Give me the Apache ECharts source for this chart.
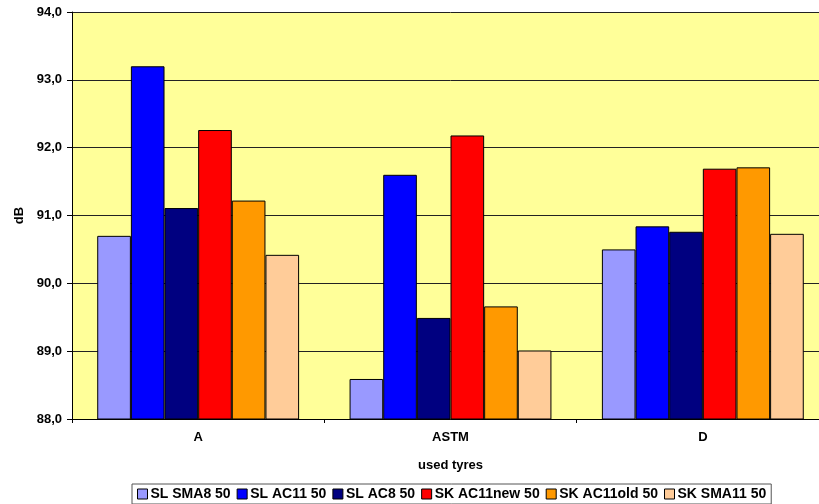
<!DOCTYPE html>
<html>
<head>
<meta charset="utf-8">
<script src="https://cdn.jsdelivr.net/npm/echarts@6/dist/echarts.min.js"></script>
<style>
  html, body { margin: 0; padding: 0; background: #fff; overflow: hidden; }
  #chart { width: 832px; height: 504px; }
</style>
</head>
<body>
<div id="chart"></div>
<script>
// Categories (tyres)
const categories = ['A', 'ASTM', 'D']

// Series values (dB)
const slSma8 = [90.70, 88.59, 90.50]
const slAc11 = [93.20, 91.60, 90.84]
const slAc8 = [91.11, 89.49, 90.76]
const skAc11new = [92.26, 92.18, 91.69]
const skAc11old = [91.22, 89.66, 91.71]
const skSma11 = [90.42, 89.01, 90.73]

const seriesNames = ['SL SMA8 50', 'SL AC11 50', 'SL AC8 50', 'SK AC11new 50', 'SK AC11old 50', 'SK SMA11 50']
const seriesData = [slSma8, slAc11, slAc8, skAc11new, skAc11old, skSma11]

// Colors
const COLORS = ['#9999FF', '#0000FF', '#000080', '#FF0000', '#FF9900', '#FFCC99']
const PLOT_BG = '#FFFF99'
const FONT = 'Arial, "Liberation Sans", sans-serif'

const chart = echarts.init(document.getElementById('chart'))

chart.setOption({
  animation: false,
  color: COLORS,
  textStyle: { fontFamily: FONT },
  grid: {
    left: 72,
    top: 12,
    width: 757,
    height: 407,
    show: true,
    backgroundColor: PLOT_BG,
    borderWidth: 0,
  },
  legend: {
    data: seriesNames,
    left: 132,
    top: 484,
    itemWidth: 10,
    itemHeight: 10,
    itemGap: 6,
    padding: [3, 5],
    borderColor: '#555',
    borderWidth: 1,
    backgroundColor: '#fff',
    icon: 'rect',
    itemStyle: { borderColor: '#000', borderWidth: 1 },
    textStyle: { fontFamily: FONT, fontWeight: 'bold', fontSize: 14, color: '#000', padding: [0, 0, 0, -2] },
  },
  xAxis: {
    type: 'category',
    data: categories,
    name: 'used tyres',
    nameLocation: 'middle',
    nameGap: 40,
    nameTextStyle: { fontFamily: FONT, fontWeight: 'bold', fontSize: 13, color: '#000' },
    axisLine: { lineStyle: { color: '#000', width: 1 } },
    axisTick: { show: true, length: 4, lineStyle: { color: '#000' } },
    axisLabel: { fontFamily: FONT, fontWeight: 'bold', fontSize: 13, color: '#000', margin: 12 },
    splitLine: { show: false },
  },
  yAxis: {
    type: 'value',
    min: 88,
    max: 94,
    interval: 1,
    name: 'dB',
    nameLocation: 'middle',
    nameGap: 46,
    nameRotate: 90,
    nameTextStyle: { fontFamily: FONT, fontWeight: 'bold', fontSize: 13, color: '#000' },
    axisLine: { show: true, lineStyle: { color: '#000', width: 1 } },
    axisTick: { show: true, length: 5, lineStyle: { color: '#000' } },
    axisLabel: {
      fontFamily: FONT,
      fontWeight: 'bold',
      fontSize: 13,
      color: '#000',
      margin: 10,
      formatter: (v) => v.toFixed(1).replace('.', ','),
    },
    splitLine: { show: true, lineStyle: { color: '#222', width: 1 } },
  },
  series: seriesNames.map((name, i) => ({
    name,
    type: 'bar',
    data: seriesData[i],
    barGap: '0%',
    barCategoryGap: '20%',
    itemStyle: { color: COLORS[i], borderColor: '#000', borderWidth: 1 },
  })),
})
</script>
</body>
</html>
